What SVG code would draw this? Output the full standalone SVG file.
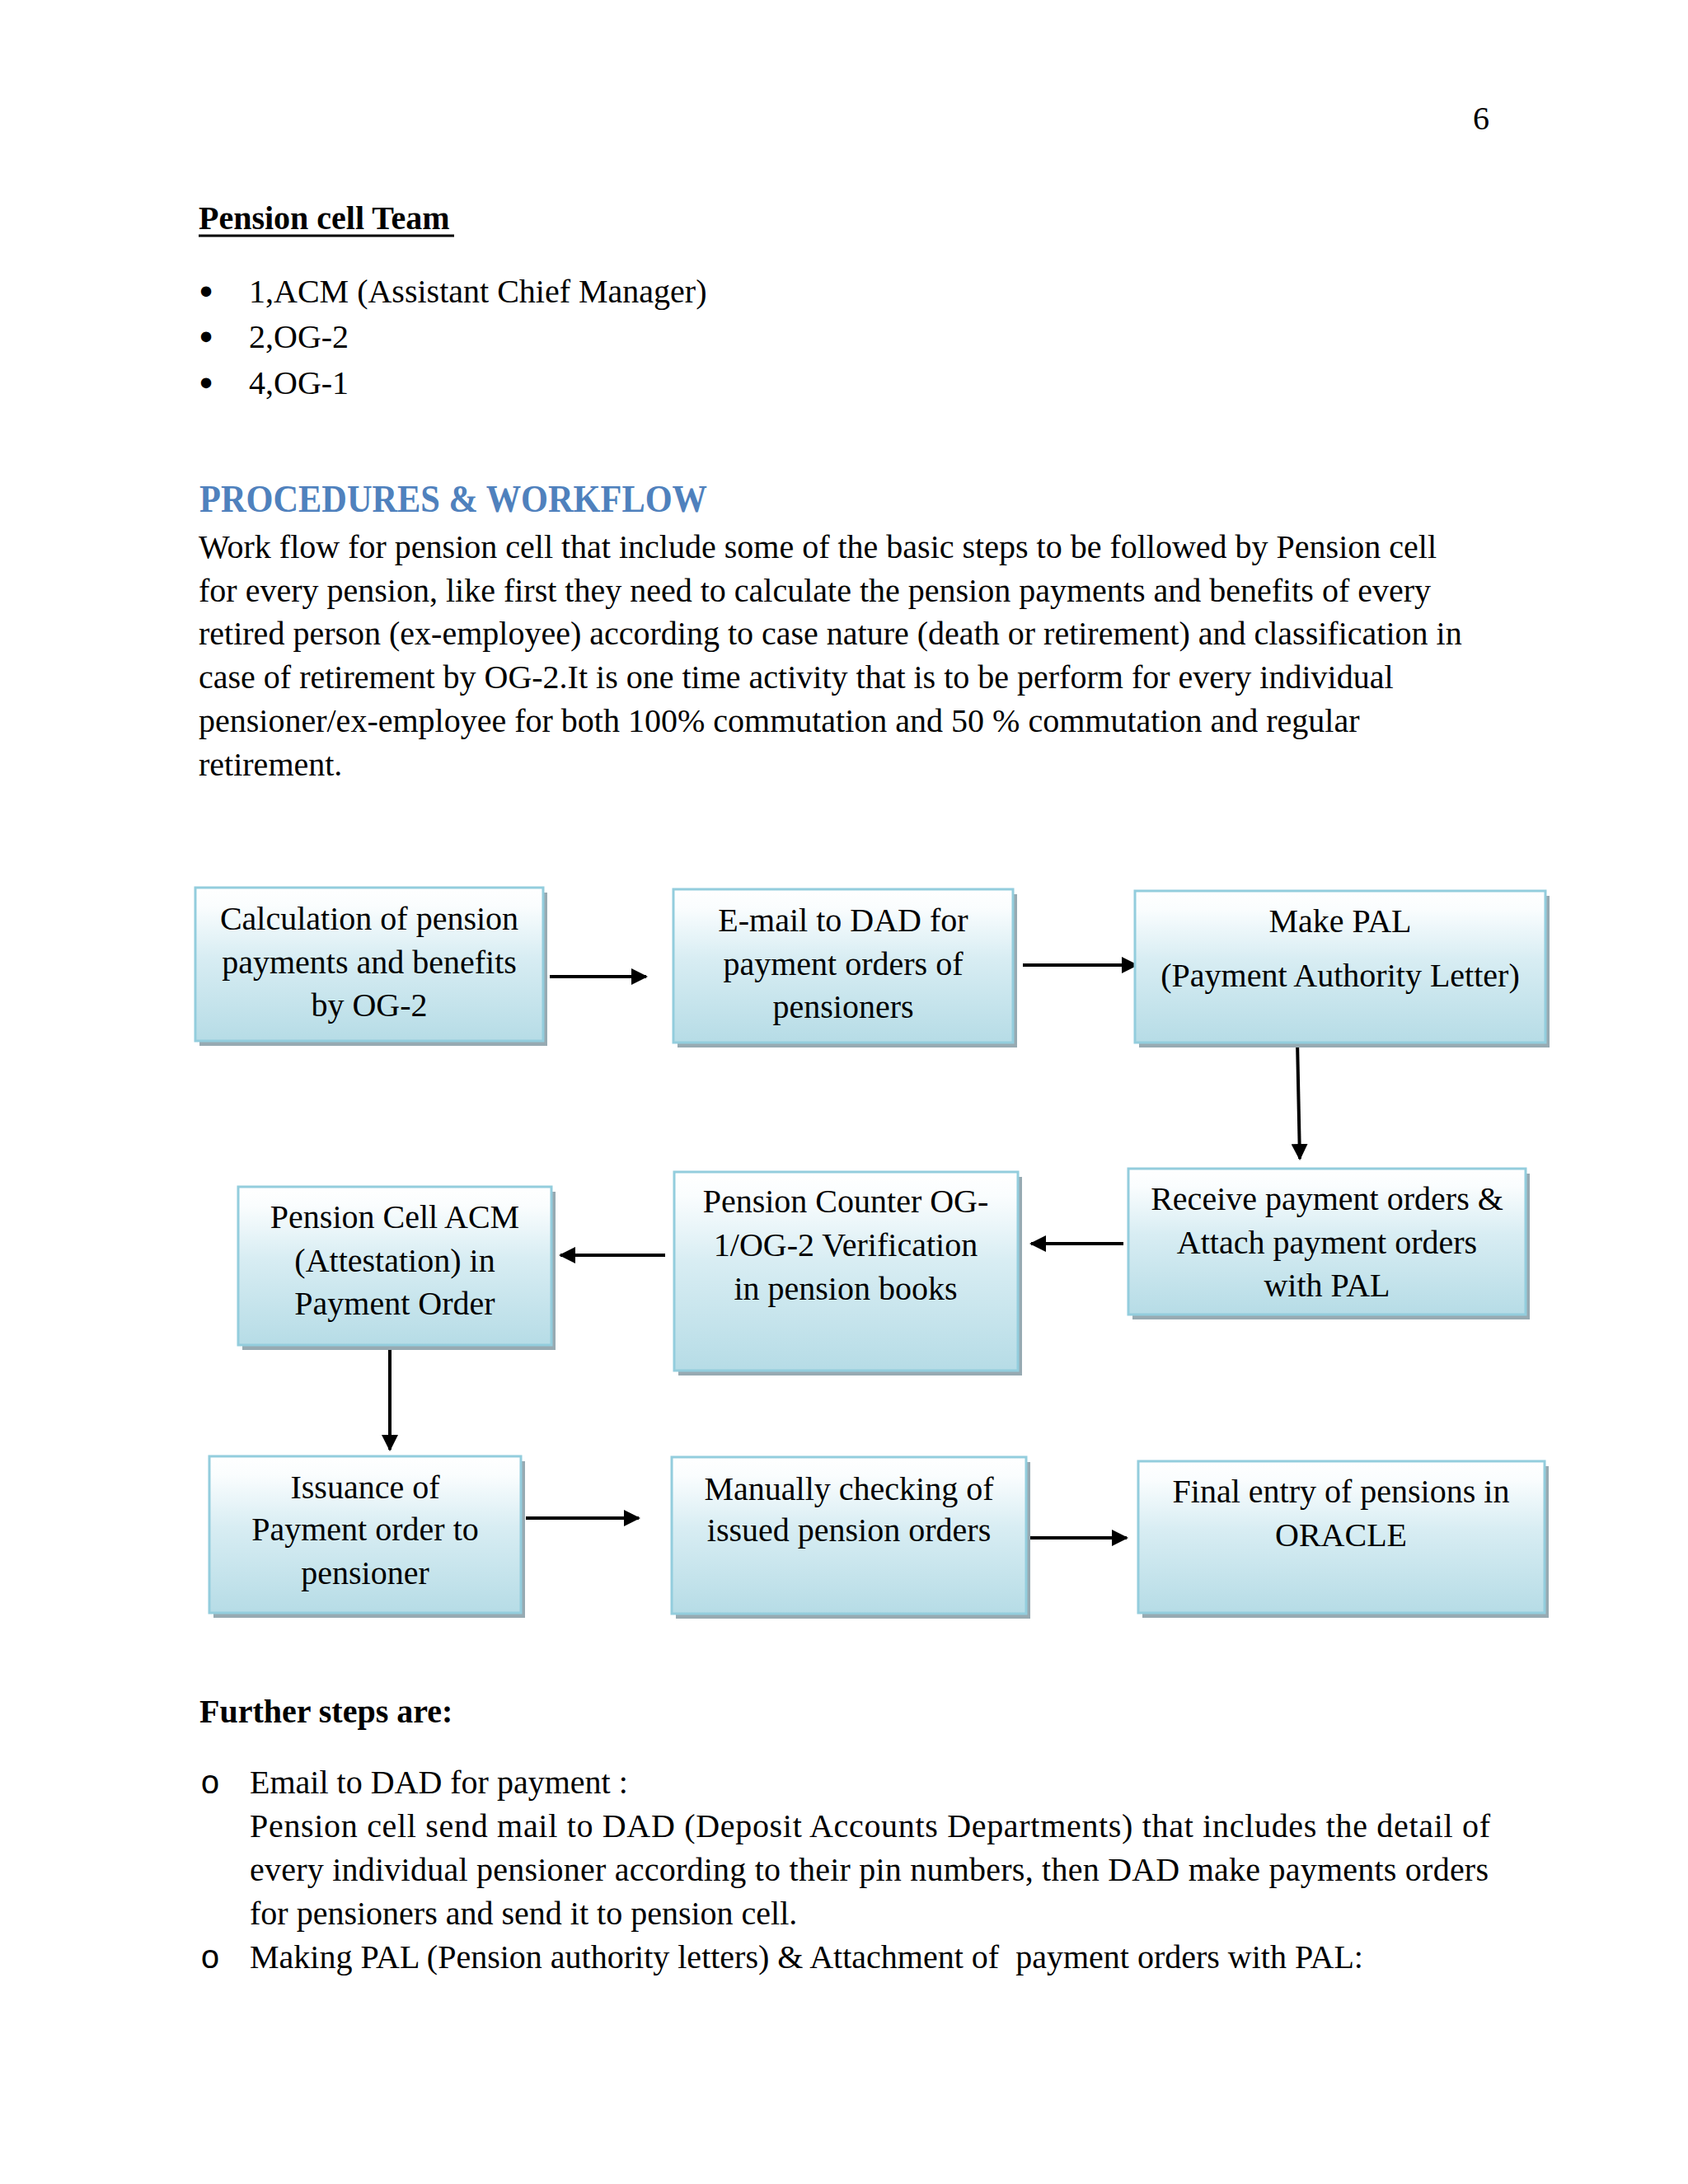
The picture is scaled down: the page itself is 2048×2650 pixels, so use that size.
<svg xmlns="http://www.w3.org/2000/svg" width="2048" height="2650" viewBox="0 0 2048 2650">
<defs>
<linearGradient id="boxGrad" x1="0" y1="0" x2="0" y2="1">
<stop offset="0" stop-color="#FFFFFF"/>
<stop offset="0.12" stop-color="#FAFDFE"/>
<stop offset="0.45" stop-color="#D8EDF3"/>
<stop offset="1" stop-color="#B6DCE6"/>
</linearGradient>
<marker id="arrow" markerUnits="userSpaceOnUse" markerWidth="20" markerHeight="20" viewBox="0 0 20 20" refX="18" refY="10" orient="auto">
<path d="M0,0 L20,10 L0,20 z" fill="#000"/>
</marker>
<style>
.t{font-family:"Liberation Serif","Times New Roman",serif;font-size:40px;fill:#000}
.b{font-weight:bold}
.c{text-anchor:middle}
.bul{font-size:46px;font-weight:bold}
.box{fill:url(#boxGrad);stroke:#93CDDD;stroke-width:3}
.sh{fill:#97AAB2}
.con{stroke:#000;stroke-width:4;fill:none;marker-end:url(#arrow)}
.h{font-family:"Liberation Serif","Cambria",serif;font-size:47px;font-weight:bold;fill:#4F81BD}
.mono{font-family:"Liberation Mono","Courier New",monospace;font-size:40px;fill:#000;text-anchor:middle}
</style>
</defs>
<rect width="2048" height="2650" fill="#FFFFFF"/>

<g id="page-number"><text class="t c" x="1797" y="157" font-size="38">6</text></g>

<g id="team">
<text class="t b" x="241" y="278">Pension cell Team</text>
<line x1="241" y1="286" x2="551" y2="286" stroke="#000" stroke-width="3"/>
<text class="t c bul" x="250" y="369">•</text><text class="t" x="302" y="367">1,ACM (Assistant Chief Manager)</text>
<text class="t c bul" x="250" y="424">•</text><text class="t" x="302" y="422">2,OG-2</text>
<text class="t c bul" x="250" y="480">•</text><text class="t" x="302" y="478">4,OG-1</text>
</g>

<g id="procedures">
<text class="h" x="242" y="621" textLength="616" lengthAdjust="spacingAndGlyphs">PROCEDURES &amp; WORKFLOW</text>
<text class="t" x="241" y="677">Work flow for pension cell that include some of the basic steps to be followed by Pension cell</text>
<text class="t" x="241" y="730">for every pension, like first they need to calculate the pension payments and benefits of every</text>
<text class="t" x="241" y="782">retired person (ex-employee) according to case nature (death or retirement) and classification in</text>
<text class="t" x="241" y="835">case of retirement by OG-2.It is one time activity that is to be perform for every individual</text>
<text class="t" x="241" y="888">pensioner/ex-employee for both 100% commutation and 50 % commutation and regular</text>
<text class="t" x="241" y="941">retirement.</text>
</g>

<g id="connectors">
<line class="con" x1="667" y1="1185" x2="784" y2="1185"/>
<line class="con" x1="1241" y1="1171" x2="1379" y2="1171"/>
<line class="con" x1="1574" y1="1263" x2="1577" y2="1406"/>
<line class="con" x1="1363" y1="1509" x2="1251" y2="1509"/>
<line class="con" x1="807" y1="1523" x2="680" y2="1523"/>
<line class="con" x1="473" y1="1632" x2="473" y2="1759"/>
<line class="con" x1="638" y1="1842" x2="775" y2="1842"/>
<line class="con" x1="1249" y1="1866" x2="1367" y2="1866"/>
</g>

<g id="n1">
<rect class="sh" x="242" y="1083" width="422" height="186"/>
<rect class="box" x="237" y="1077" width="422" height="186"/>
<text class="t c" x="448" y="1128">Calculation of pension</text>
<text class="t c" x="448" y="1181">payments and benefits</text>
<text class="t c" x="448" y="1233">by OG-2</text>
</g>

<g id="n2">
<rect class="sh" x="822" y="1085" width="412" height="186"/>
<rect class="box" x="817" y="1079" width="412" height="186"/>
<text class="t c" x="1023" y="1130">E-mail to DAD for</text>
<text class="t c" x="1023" y="1183">payment orders of</text>
<text class="t c" x="1023" y="1235">pensioners</text>
</g>

<g id="n3">
<rect class="sh" x="1382" y="1087" width="498" height="184"/>
<rect class="box" x="1377" y="1081" width="498" height="184"/>
<text class="t c" x="1626" y="1131">Make PAL</text>
<text class="t c" x="1626" y="1197">(Payment Authority Letter)</text>
</g>

<g id="n4">
<rect class="sh" x="1374" y="1424" width="482" height="177"/>
<rect class="box" x="1369" y="1418" width="482" height="177"/>
<text class="t c" x="1610" y="1468">Receive payment orders &amp;</text>
<text class="t c" x="1610" y="1521">Attach payment orders</text>
<text class="t c" x="1610" y="1573">with PAL</text>
</g>

<g id="n5">
<rect class="sh" x="823" y="1428" width="417" height="241"/>
<rect class="box" x="818" y="1422" width="417" height="241"/>
<text class="t c" x="1026" y="1471">Pension Counter OG-</text>
<text class="t c" x="1026" y="1524">1/OG-2 Verification</text>
<text class="t c" x="1026" y="1577">in pension books</text>
</g>

<g id="n6">
<rect class="sh" x="294" y="1446" width="380" height="192"/>
<rect class="box" x="289" y="1440" width="380" height="192"/>
<text class="t c" x="479" y="1490">Pension Cell ACM</text>
<text class="t c" x="479" y="1543">(Attestation) in</text>
<text class="t c" x="479" y="1595">Payment Order</text>
</g>

<g id="n7">
<rect class="sh" x="259" y="1773" width="378" height="190"/>
<rect class="box" x="254" y="1767" width="378" height="190"/>
<text class="t c" x="443" y="1818">Issuance of</text>
<text class="t c" x="443" y="1869">Payment order to</text>
<text class="t c" x="443" y="1922">pensioner</text>
</g>

<g id="n8">
<rect class="sh" x="820" y="1774" width="430" height="190"/>
<rect class="box" x="815" y="1768" width="430" height="190"/>
<text class="t c" x="1030" y="1820">Manually checking of</text>
<text class="t c" x="1030" y="1870">issued pension orders</text>
</g>

<g id="n9">
<rect class="sh" x="1386" y="1779" width="493" height="184"/>
<rect class="box" x="1381" y="1773" width="493" height="184"/>
<text class="t c" x="1627" y="1823">Final entry of pensions in</text>
<text class="t c" x="1627" y="1876">ORACLE</text>
</g>

<g id="further">
<text class="t b" x="242" y="2090">Further steps are:</text>
<text class="mono" x="255" y="2176">o</text>
<text class="t" x="303" y="2176">Email to DAD for payment :</text>
<text class="t" x="303" y="2229" textLength="1505" lengthAdjust="spacing">Pension cell send mail to DAD (Deposit Accounts Departments) that includes the detail of</text>
<text class="t" x="303" y="2282" textLength="1503" lengthAdjust="spacing">every individual pensioner according to their pin numbers, then DAD make payments orders</text>
<text class="t" x="303" y="2335">for pensioners and send it to pension cell.</text>
<text class="mono" x="255" y="2388">o</text>
<text class="t" x="303" y="2388">Making PAL (Pension authority letters) &amp; Attachment of &#160;payment orders with PAL:</text>
</g>
</svg>
